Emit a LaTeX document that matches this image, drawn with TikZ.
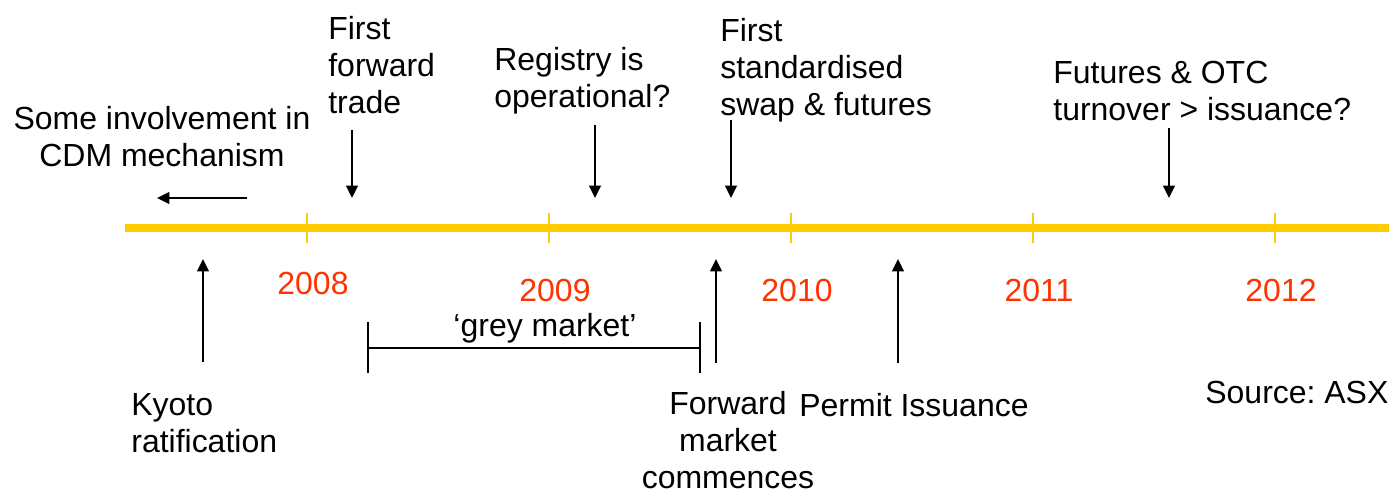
\documentclass[tikz,border=0pt]{standalone}
\usepackage{fontspec}
\setmainfont{Liberation Sans}
\usepackage{tikz}
\usetikzlibrary{arrows.meta, positioning}
\usepackage{xcolor}
\definecolor{tlyellow}{HTML}{FFCC00}
\definecolor{yearred}{HTML}{FF3300}
\frenchspacing

\begin{document}
\begin{tikzpicture}[x=0.02cm, y=-0.02cm,
    >={Triangle[width=6.5pt,length=7pt]},
    txt/.style={inner sep=0pt, font=\fontsize{18.2}{21}\selectfont},
    yr/.style={txt, text=yearred},
    evt/.style={->, line width=1.45pt},
    bar/.style={line width=1.45pt}]
    \useasboundingbox (0,0) rectangle (1389,493);

    % 时间轴
    \coordinate (tl-start) at (125,228);
    \coordinate (tl-end) at (1389,228);
    \draw[tlyellow, line width=4.5pt] (tl-start) -- (tl-end);
    \foreach \x/\yy/\yrs in {307/283/2008, 549/290/2009, 791/290/2010, 1033/290/2011, 1275/290/2012} {
        \draw[tlyellow, line width=1.6pt] (\x,213) -- (\x,243);
        \node[yr] (y\yrs) at (\x+6,\yy) {\yrs};
    }

    % 上方事件
    \node[txt, align=center] (cdm) at (162,137) {Some involvement in\\CDM mechanism};
    \coordinate (cdm-tail) at (247,198);
    \coordinate (cdm-tip) at (157,198);
    \draw[evt] (cdm-tail) -- (cdm-tip);

    \node[txt, anchor=west, align=left] (fwdtrade) at (328,65) {First\\forward\\trade};
    \coordinate (fwdtrade-tail) at (352,130);
    \coordinate (fwdtrade-tip) at (352,198);
    \draw[evt] (fwdtrade-tail) -- (fwdtrade-tip);

    \node[txt, anchor=west, align=left] (registry) at (494,81) {Registry is\\operational?};
    \coordinate (registry-tail) at (595,125);
    \coordinate (registry-tip) at (595,198);
    \draw[evt] (registry-tail) -- (registry-tip);

    \node[txt, anchor=west, align=left] (stdswap) at (720,70) {First\\standardised\\swap \& futures};
    \coordinate (stdswap-tail) at (731,120);
    \coordinate (stdswap-tip) at (731,198);
    \draw[evt] (stdswap-tail) -- (stdswap-tip);

    \node[txt, anchor=west, align=left] (otc) at (1053,91) {Futures \& OTC\\turnover > issuance?};
    \coordinate (otc-tail) at (1169,128);
    \coordinate (otc-tip) at (1169,198);
    \draw[evt] (otc-tail) -- (otc-tip);

    % 下方事件
    \node[txt, anchor=west, align=left] (kyoto) at (131,423) {Kyoto\\ratification};
    \coordinate (kyoto-tail) at (203,362);
    \coordinate (kyoto-tip) at (203,259);
    \draw[evt] (kyoto-tail) -- (kyoto-tip);

    % 灰色市场
    \coordinate (grey-l) at (368,348);
    \coordinate (grey-r) at (700,348);
    \node[txt] (grey) at (545,328) {`grey market'};
    \draw[bar] (grey-l) -- (grey-r);
    \draw[bar] ([yshift=-14]grey-l) -- ([yshift=15]grey-l);
    \draw[bar] ([yshift=-14]grey-r) -- ([yshift=15]grey-r);

    \node[txt, align=center] (fwdmarket) at (728,440) {Forward\\market\\commences};
    \coordinate (fwdmarket-tail) at (716,363);
    \coordinate (fwdmarket-tip) at (716,259);
    \draw[evt] (fwdmarket-tail) -- (fwdmarket-tip);

    \node[txt, anchor=west] (permit) at (799,405) {Permit Issuance};
    \coordinate (permit-tail) at (898,363);
    \coordinate (permit-tip) at (898,259);
    \draw[evt] (permit-tail) -- (permit-tip);

    \node[txt, anchor=west] (source) at (1205,392) {Source: ASX};
\end{tikzpicture}
\end{document}
